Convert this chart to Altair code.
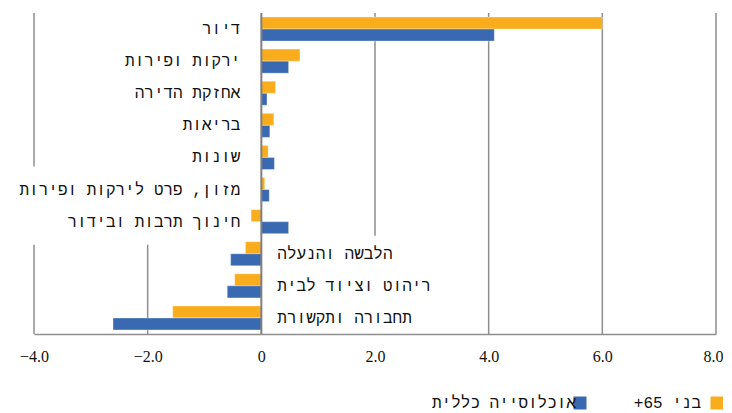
import altair as alt
import pandas as pd

categories = ["דיור", "ירקות ופירות", "אחזקת הדירה", "בריאות", "שונות",
              "מזון, פרט לירקות ופירות", "חינוך תרבות ובידור", "הלבשה והנעלה",
              "ריהוט וציוד לבית", "תחבורה ותקשורת"]
senior_vals = [6.0, 0.68, 0.25, 0.22, 0.12, 0.06, -0.18, -0.28, -0.47, -1.56]
general_vals = [4.10, 0.48, 0.10, 0.15, 0.23, 0.14, 0.48, -0.54, -0.60, -2.61]
series_senior = "בני 65+"
series_general = "אוכלוסייה כללית"
x_ticks = [-4, -2, 0, 2, 4, 6, 8]
grid_ticks = [-4, -2, 2, 4, 6, 8]

ORANGE = "#F9AD1C"
BLUE = "#3969B1"
GRID = "#8E8E8E"
HEB_FONT = "Liberation Mono"
TXT = "#111111"

rows = []
for c, s, g in zip(categories, senior_vals, general_vals):
    rows.append({"cat": c, "series": series_senior, "value": s})
    rows.append({"cat": c, "series": series_general, "value": g})
bars_df = pd.DataFrame(rows)

# label side: right of zero when both series are negative
lab_rows = []
wide = {"מזון, פרט לירקות ופירות", "חינוך תרבות ובידור"}
for c, s, g in zip(categories, senior_vals, general_vals):
    right = max(s, g) < 0
    if right:
        m0, m1 = 0.05, 2.6
    else:
        m0, m1 = (-4.45 if c in wide else -3.6), -0.05
    lab_rows.append({"cat": c, "right": right, "zero": 0, "m0": m0, "m1": m1})
lab_df = pd.DataFrame(lab_rows)

xscale = alt.Scale(domain=[-4, 8], nice=False, zero=False)
yscale = alt.Scale(paddingInner=0.25, paddingOuter=0.125)
xaxis = alt.Axis(values=x_ticks, title=None, grid=False, ticks=False,
                 domain=True, domainColor=GRID, domainWidth=1.5,
                 labelExpr="datum.value == 0 ? '0' : format(datum.value, '.1f')",
                 labelFont="Liberation Serif", labelFontSize=16, labelColor=TXT,
                 labelFlush=False,
                 labelOffset=alt.condition("datum.value == 8", alt.value(-3), alt.value(0)),
                 labelPadding=14, zindex=1)
ycat = alt.Y("cat:N", sort=categories, scale=yscale, axis=None)

grid = alt.Chart(pd.DataFrame({"t": grid_ticks})).mark_rule(
    color=GRID, strokeWidth=1.5
).encode(x=alt.X("t:Q", scale=xscale, axis=xaxis))

masks_left = alt.Chart(lab_df[~lab_df.right]).mark_bar(
    color="white", size=46
).encode(x=alt.X("m0:Q", scale=xscale, axis=xaxis), x2="m1:Q", y=ycat)

masks_right = alt.Chart(lab_df[lab_df.right]).mark_bar(
    color="white", size=36
).encode(x=alt.X("m0:Q", scale=xscale, axis=xaxis), x2="m1:Q", y=ycat)

# RTL legend: label text to the left of its square (blank braille cells as padding)
legend_label = ("(datum.label == '" + series_senior + "' ? datum.label + '\\u200f\\u2800\\u2800'"
                " : datum.label + '\\u2800')")

bars = alt.Chart(bars_df).mark_bar(stroke="white", strokeWidth=0.6, strokeOpacity=0.6).encode(
    x=alt.X("value:Q", scale=xscale, axis=xaxis),
    y=ycat,
    yOffset=alt.YOffset("series:N", sort=[series_senior, series_general]),
    color=alt.Color("series:N",
                    scale=alt.Scale(domain=[series_general, series_senior], range=[BLUE, ORANGE]),
                    legend=alt.Legend(title=None, orient="none", direction="horizontal",
                                      legendX=538, legendY=382,
                                      symbolType="square", symbolSize=169,
                                      symbolStrokeWidth=0, symbolOpacity=1,
                                      labelFont=HEB_FONT, labelFontSize=16, labelColor=TXT,
                                      labelAlign="right", labelOffset=0, symbolOffset=0,
                                      labelLimit=400,
                                      labelExpr=legend_label,
                                      columnPadding=45)),
)

zero_line = alt.Chart(pd.DataFrame({"z": [0]})).mark_rule(
    color="#7F7F7F", strokeWidth=2
).encode(x=alt.X("z:Q", scale=xscale, axis=xaxis))

text_left = alt.Chart(lab_df[~lab_df.right]).mark_text(
    align="right", baseline="middle", dx=-21, font=HEB_FONT, fontSize=16, color=TXT
).encode(x=alt.X("zero:Q", scale=xscale, axis=xaxis), y=ycat, text="cat:N")

text_right = alt.Chart(lab_df[lab_df.right]).mark_text(
    align="left", baseline="middle", dx=16, font=HEB_FONT, fontSize=16, color=TXT
).encode(x=alt.X("zero:Q", scale=xscale, axis=xaxis), y=ycat, text="cat:N")

chart = alt.layer(grid, masks_left, masks_right, bars, zero_line, text_left, text_right).properties(
    width=682, height=321,
    autosize=alt.AutoSizeParams(type="none"),
    padding={"left": 26, "top": 5, "right": 7, "bottom": 78},
).configure_view(stroke=None)

chart.save("out.html", embed_options={"renderer": "svg", "actions": False})
